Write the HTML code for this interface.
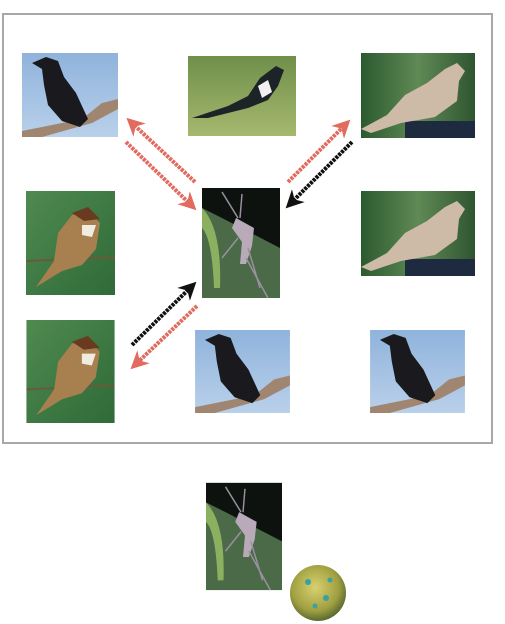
<!DOCTYPE html>
<html><head><meta charset="utf-8"><style>html,body{margin:0;padding:0;background:#fff;width:505px;height:624px;overflow:hidden}</style></head>
<body>
<svg width="505" height="624" viewBox="0 0 505 624" xmlns="http://www.w3.org/2000/svg">
<defs>
<linearGradient id="sky" x1="0" y1="0" x2="0" y2="1"><stop offset="0" stop-color="#8fb3dc"/><stop offset="1" stop-color="#b9d0ea"/></linearGradient>
<linearGradient id="grn" x1="0" y1="0" x2="1" y2="1"><stop offset="0" stop-color="#4f8a50"/><stop offset="1" stop-color="#2f6a38"/></linearGradient>
<linearGradient id="dgr" x1="0" y1="0" x2="1" y2="0"><stop offset="0" stop-color="#2c5a30"/><stop offset="0.5" stop-color="#5f8a55"/><stop offset="1" stop-color="#2f5530"/></linearGradient>
<linearGradient id="grass" x1="0" y1="0" x2="0" y2="1"><stop offset="0" stop-color="#6f8f4a"/><stop offset="1" stop-color="#a6b86e"/></linearGradient>
<radialGradient id="vir" cx="0.45" cy="0.4" r="0.6"><stop offset="0" stop-color="#d8d070"/><stop offset="0.7" stop-color="#a0a040"/><stop offset="1" stop-color="#5a6a30"/></radialGradient>
<symbol id="crow" viewBox="0 0 96 84">
<rect width="96" height="84" fill="url(#sky)"/>
<path d="M0 78 L60 66 L80 50 L96 46 L96 56 L70 70 L20 84 L0 84Z" fill="#a08670"/>
<path d="M10 10 L24 4 L36 8 L42 24 L54 40 L66 66 L58 74 L40 68 L26 52 L22 32 L20 16Z" fill="#1a1a1e"/>
</symbol>
<symbol id="magpie" viewBox="0 0 108 80">
<rect width="108" height="80" fill="url(#grass)"/>
<path d="M4 62 L40 50 L60 40 L72 22 L88 10 L96 14 L90 30 L80 44 L60 52 L20 62Z" fill="#1c2428"/>
<path d="M70 30 L80 24 L84 36 L74 42Z" fill="#f0f0f0"/>
</symbol>
<symbol id="dove" viewBox="0 0 114 85">
<rect width="114" height="85" fill="url(#dgr)"/>
<rect x="44" y="68" width="70" height="17" fill="#1e2a40"/>
<path d="M0 76 L26 62 L44 42 L66 30 L84 16 L96 10 L104 18 L98 28 L96 48 L74 64 L40 70 L10 80Z" fill="#cdbba8"/>
</symbol>
<symbol id="sparrow" viewBox="0 0 89 104">
<rect width="89" height="104" fill="url(#grn)"/>
<line x1="0" y1="70" x2="89" y2="66" stroke="#6a5a3a" stroke-width="2"/>
<path d="M10 96 L28 70 L32 42 L46 24 L62 20 L74 32 L70 58 L56 74 L36 80Z" fill="#a88050"/>
<path d="M46 22 L62 16 L74 28 L58 30Z" fill="#6a3a20"/>
<path d="M56 34 L70 34 L66 46 L56 44Z" fill="#f0ece0"/>
</symbol>
<symbol id="mosq" viewBox="0 0 78 110">
<rect width="78" height="110" fill="#4a6a48"/>
<path d="M0 0 H78 V60 L20 30 L0 20Z" fill="#0d120e"/>
<path d="M0 20 Q20 40 18 100 L12 100 Q10 50 0 40Z" fill="#8ab060"/>
<path d="M34 30 L52 40 L50 58 L44 76 L38 76 L40 54 L30 40Z" fill="#b8aab8"/>
<path d="M20 4 L36 30 M40 6 L38 30 M36 50 L20 70 M46 60 L58 100 M44 70 L66 110" stroke="#9a90a0" stroke-width="1.5" fill="none"/>
</symbol>
<marker id="ar" viewBox="0 0 10 10" refX="5" refY="5" markerWidth="4.5" markerHeight="4.5" orient="auto"><path d="M0 0 L10 5 L0 10 L3 5Z" fill="#e26a5e"/></marker>
<marker id="ab" viewBox="0 0 10 10" refX="5" refY="5" markerWidth="4.5" markerHeight="4.5" orient="auto"><path d="M0 0 L10 5 L0 10 L3 5Z" fill="#111"/></marker>
</defs>
<rect x="3" y="14" width="489" height="429" fill="#fff" stroke="#a8a8a8" stroke-width="2"/>
<use href="#crow" x="22" y="53" width="96" height="84"/>
<use href="#magpie" x="188" y="56" width="108" height="80"/>
<use href="#dove" x="361" y="53" width="114" height="85"/>
<use href="#sparrow" x="26" y="191" width="89" height="104"/>
<use href="#mosq" x="202" y="188" width="78" height="110"/>
<use href="#dove" x="361" y="191" width="114" height="85"/>
<use href="#sparrow" x="26" y="320" width="89" height="103"/>
<use href="#crow" x="195" y="330" width="95" height="83"/>
<use href="#crow" x="370" y="330" width="95" height="83"/>
<use href="#mosq" x="206" y="482" width="76" height="109"/>
<circle cx="318" cy="593" r="28" fill="url(#vir)"/>
<g fill="#3aa0a0"><circle cx="308" cy="582" r="3"/><circle cx="326" cy="598" r="3"/><circle cx="315" cy="606" r="2.5"/><circle cx="330" cy="580" r="2.5"/></g>
<g stroke-width="4" stroke-dasharray="3 1" fill="none">
<line x1="126" y1="142" x2="190" y2="204" stroke="#e26a5e" marker-end="url(#ar)"/>
<line x1="195" y1="182" x2="133" y2="124" stroke="#e26a5e" marker-end="url(#ar)"/>
<line x1="288" y1="182" x2="344" y2="126" stroke="#e26a5e" marker-end="url(#ar)"/>
<line x1="352" y1="142" x2="292" y2="202" stroke="#111" marker-end="url(#ab)"/>
<line x1="132" y1="345" x2="190" y2="288" stroke="#111" marker-end="url(#ab)"/>
<line x1="197" y1="306" x2="137" y2="363" stroke="#e26a5e" marker-end="url(#ar)"/>
</g>
</svg>
</body></html>
